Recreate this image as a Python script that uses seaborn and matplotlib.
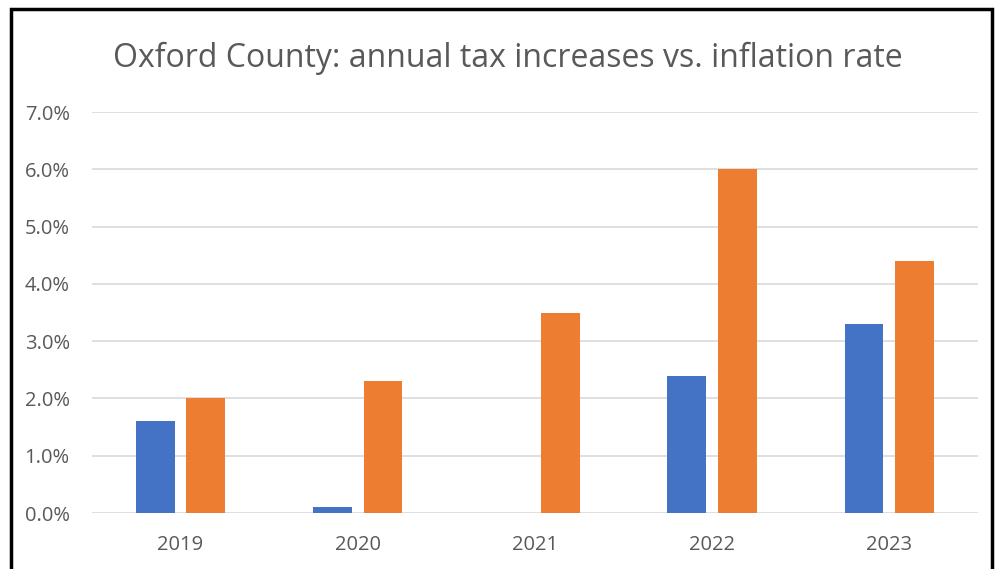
import numpy as np
import pandas as pd
import matplotlib
matplotlib.use("Agg")
import matplotlib.pyplot as plt
from matplotlib.patches import Rectangle
from matplotlib.ticker import FuncFormatter
import seaborn as sns

# Data (percent)
years = ["2019", "2020", "2021", "2022", "2023"]
tax_increase = [1.6, 0.1, 0.0, 2.4, 3.3]
inflation = [2.0, 2.3, 3.5, 6.0, 4.4]
series = ["Tax increase", "Inflation"]
colors = ["#4472C4", "#ED7D31"]

df = pd.DataFrame({
    "year": years * 2,
    "value": tax_increase + inflation,
    "series": [series[0]] * len(years) + [series[1]] * len(years),
})

sns.set_style("white")
plt.rcParams["font.family"] = ["Open Sans", "DejaVu Sans"]

fig = plt.figure(figsize=(10.05, 5.69), dpi=100)
ax = fig.add_axes([0.0915, 0.0984, 0.8815, 0.7046])

sns.barplot(data=df, x="year", y="value", hue="series", hue_order=series,
            palette=colors, saturation=1, width=0.57, gap=0.23, ax=ax,
            legend=False, edgecolor="none", zorder=3)

ax.set_ylim(0, 7)
ax.set_yticks(np.arange(0, 7.1, 1))
ax.yaxis.set_major_formatter(FuncFormatter(lambda v, p: f"{v:.1f}%"))
ax.grid(axis="y", color="#D9D9D9", linewidth=1.2, zorder=0)
ax.set_xlabel("")
ax.set_ylabel("")
for s in ax.spines.values():
    s.set_visible(False)
ax.tick_params(axis="both", colors="#595959", labelsize=14.5, length=0)
ax.tick_params(axis="x", pad=16)
ax.tick_params(axis="y", pad=16)

fig.text(0.505, 0.898, "Oxford County: annual tax increases vs. inflation rate",
         ha="center", va="center", fontsize=23, color="#595959")

# outer frame
fig.patches.append(Rectangle((11 / 1005, -0.1), 981 / 1005, 1.1 - 9 / 569,
                             transform=fig.transFigure, fill=False,
                             edgecolor="black", linewidth=2.5))

fig.savefig("out.png", dpi=100)
